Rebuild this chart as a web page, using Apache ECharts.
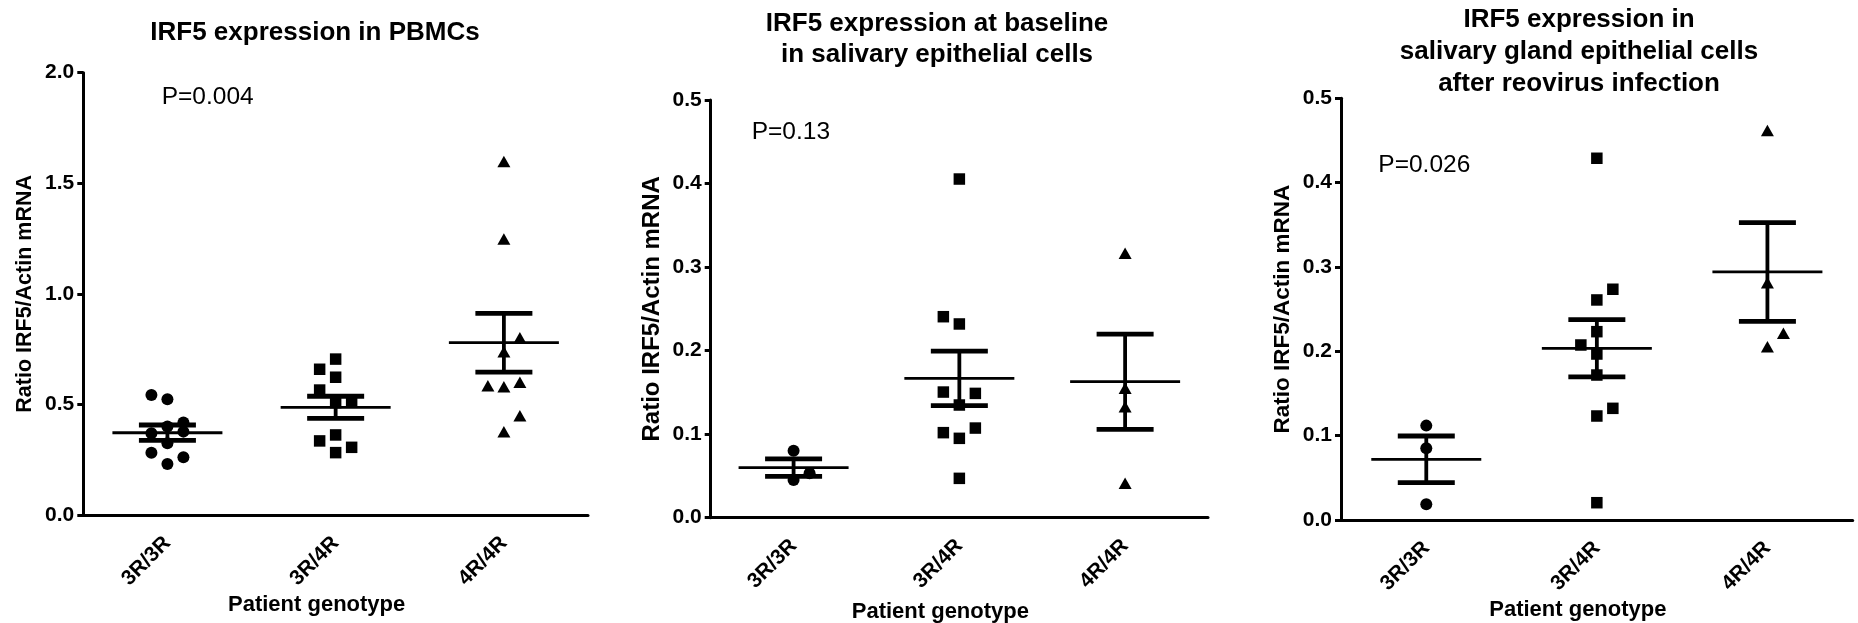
<!DOCTYPE html>
<html>
<head>
<meta charset="utf-8">
<script src="https://cdn.jsdelivr.net/npm/echarts@6/dist/echarts.min.js"></script>
<style>
  html, body { margin: 0; padding: 0; background: #fff; }
  #chart { width: 1858px; height: 623px; }
</style>
</head>
<body>
<div id="chart"></div>
<script>
// ---------------- DATA ----------------
const genotypes = ['3R/3R', '3R/4R', '4R/4R'];
const pbmcTickLabels = ['0.0', '0.5', '1.0', '1.5', '2.0'];
const salivaryTickLabels = ['0.0', '0.1', '0.2', '0.3', '0.4', '0.5'];

const titleTexts = [
  'IRF5 expression in PBMCs',
  'IRF5 expression at baseline\nin salivary epithelial cells',
  'IRF5 expression in\nsalivary gland epithelial cells\nafter reovirus infection'
];
const pValueTexts = ['P=0.004', 'P=0.13', 'P=0.026'];
const yAxisName = 'Ratio IRF5/Actin mRNA';
const xAxisName = 'Patient genotype';

// Panel 1: PBMCs
const pbmc33 = [0.523, 0.400, 0.324, 0.231, 0.418, 0.543, 0.370, 0.282, 0.377, 0.261];
const pbmc34 = [0.705, 0.623, 0.508, 0.362, 0.282, 0.511, 0.659, 0.565, 0.335, 0.306];
const pbmc44 = [1.598, 1.248, 0.738, 0.580, 0.377, 0.802, 0.585, 0.449, 0.600];
const pbmcMean = [0.372, 0.487, 0.779];
const pbmcSem = [0.035, 0.050, 0.133];

// Panel 2: salivary epithelial cells at baseline
const base33 = [0.0802, 0.0451, 0.0531];
const base34 = [0.4054, 0.2319, 0.1349, 0.0950, 0.0471, 0.1488, 0.2406, 0.1504, 0.1018, 0.1073];
const base44 = [0.3165, 0.1549, 0.1329, 0.0412];
const baseMean = [0.0599, 0.1668, 0.1628];
const baseSem = [0.0105, 0.0327, 0.0570];

// Panel 3: after reovirus infection
const reo33 = [0.1119, 0.0850, 0.0186];
const reo34 = [0.4289, 0.2609, 0.2233, 0.1968, 0.1719, 0.1233, 0.0205, 0.2736, 0.2075, 0.1324];
const reo44 = [0.4617, 0.2814, 0.2055, 0.2214];
const reoMean = [0.0719, 0.2036, 0.2941];
const reoSem = [0.0277, 0.0340, 0.0585];

// ---------------- LAYOUT / STYLE ----------------
const FONT = 'Liberation Sans, Arial, Helvetica, sans-serif';
const panels = [
  { grid: { left: 83.3, top: 72.7, width: 504.7, height: 442.3 }, yMax: 2.0, yInterval: 0.5, ticks: pbmcTickLabels,
    groups: [pbmc33, pbmc34, pbmc44], mean: pbmcMean, sem: pbmcSem,
    titleX: 315, titleTop: 20.2, titleLH: 26, pX: 161.7, pTop: 85.3, yNameSize: 21.5, yNameGap: 47, xNameGap: 79 },
  { grid: { left: 710.7, top: 100, width: 497.3, height: 417.7 }, yMax: 0.5, yInterval: 0.1, ticks: salivaryTickLabels,
    groups: [base33, base34, base44], mean: baseMean, sem: baseSem,
    titleX: 937, titleTop: 8.2, titleLH: 31, pX: 751.7, pTop: 120.3, yNameSize: 24, yNameGap: 46, xNameGap: 83 },
  { grid: { left: 1341, top: 98.3, width: 511.7, height: 421.7 }, yMax: 0.5, yInterval: 0.1, ticks: salivaryTickLabels,
    groups: [reo33, reo34, reo44], mean: reoMean, sem: reoSem,
    titleX: 1579, titleTop: 3.5, titleLH: 32, pX: 1378.3, pTop: 152.6, yNameSize: 22.5, yNameGap: 47, xNameGap: 79 }
];
const symbols = ['circle', 'rect', 'triangle'];
const symbolSizes = [12, 11.5, [13, 11.5]];
const LANE_PX = 16;      // horizontal dodge step
const MIN_GAP_PX = 16.3; // collision distance for dodge

// Beeswarm-style dodge: centre if free, else the roomier side (ties alternate)
function dodge(values, cat, pxPerUnit, laneVal) {
  const placed = [];
  let sideCount = 0;
  const minDist = (lane, v) => placed.reduce((m, p) =>
    Math.min(m, Math.hypot((lane - p.lane) * LANE_PX, (v - p.v) * pxPerUnit)), Infinity);
  return values.map(v => {
    let lane;
    if (minDist(0, v) >= MIN_GAP_PX) lane = 0;
    else {
      const dl = minDist(-1, v), dr = minDist(1, v);
      if (Math.abs(dl - dr) < 0.5) lane = (sideCount % 2 === 0) ? 1 : -1;
      else lane = dl > dr ? -1 : 1;
      sideCount++;
    }
    placed.push({ lane, v });
    return [cat + lane * laneVal, v];
  });
}

const grids = [], xAxes = [], yAxes = [], series = [], titles = [];
panels.forEach((p, i) => {
  grids.push(Object.assign({ containLabel: false, outerBoundsMode: 'none' }, p.grid));
  const pxPerUnit = p.grid.height / p.yMax;
  const laneVal = LANE_PX / (p.grid.width / genotypes.length);
  // category axis (visible)
  xAxes.push({
    type: 'category', gridIndex: i, data: genotypes, boundaryGap: true, position: 'bottom',
    axisLine: { onZero: false, lineStyle: { color: '#000', width: 3 } },
    axisTick: { alignWithLabel: true, length: 8, lineStyle: { color: '#000', width: 3 } },
    axisLabel: { rotate: 45, margin: 25, color: '#000', fontWeight: 'bold', fontSize: 21, fontFamily: FONT },
    splitLine: { show: false },
    name: xAxisName, nameLocation: 'middle', nameGap: p.xNameGap, nameMoveOverlap: false,
    nameTextStyle: { color: '#000', fontWeight: 'bold', fontSize: 22, fontFamily: FONT, padding: [0, 38, 0, 0] }
  });
  // value axis (hidden) used to place dodged points and mean/SEM marks
  xAxes.push({ type: 'value', gridIndex: i, min: -0.5, max: genotypes.length - 0.5, show: false,
    axisLine: { onZero: false } });
  yAxes.push({
    type: 'value', gridIndex: i, min: 0, max: p.yMax, interval: p.yInterval, position: 'left',
    axisLine: { show: true, onZero: false, lineStyle: { color: '#000', width: 3 } },
    axisTick: { show: true, length: 6, lineStyle: { color: '#000', width: 3 } },
    axisLabel: { margin: 9, color: '#000', fontWeight: 'bold', fontSize: 21, fontFamily: FONT,
      formatter: v => p.ticks[Math.round(v / p.yInterval)] },
    splitLine: { show: false },
    name: yAxisName, nameLocation: 'middle', nameGap: p.yNameGap, nameMoveOverlap: false,
    nameTextStyle: { color: '#000', fontWeight: 'bold', fontSize: p.yNameSize, fontFamily: FONT }
  });
  p.groups.forEach((vals, g) => {
    series.push({
      type: 'scatter', xAxisIndex: i * 2 + 1, yAxisIndex: i,
      symbol: symbols[g], symbolSize: symbolSizes[g],
      itemStyle: { color: '#000', opacity: 1 },
      data: dodge(vals, g, pxPerUnit, laneVal), silent: true, z: 3
    });
  });
  series.push({
    type: 'custom', xAxisIndex: i * 2 + 1, yAxisIndex: i, z: 2, silent: true,
    data: p.mean.map((m, g) => [g, m, p.sem[g]]),
    renderItem: (params, api) => {
      const x = api.value(0), m = api.value(1), s = api.value(2);
      const c = api.coord([x, m]), hi = api.coord([x, m + s]), lo = api.coord([x, m - s]);
      const ln = (x1, y1, x2, y2, w) => ({ type: 'line', shape: { x1, y1, x2, y2 }, style: { stroke: '#000', lineWidth: w } });
      return { type: 'group', children: [
        ln(c[0] - 55, c[1], c[0] + 55, c[1], 2.8),
        ln(c[0], hi[1], c[0], lo[1], 3.8),
        ln(c[0] - 28.5, hi[1], c[0] + 28.5, hi[1], 4.8),
        ln(c[0] - 28.5, lo[1], c[0] + 28.5, lo[1], 4.8)
      ] };
    }
  });
  titles.push({
    text: titleTexts[i], left: p.titleX, top: p.titleTop, textAlign: 'center', padding: 0,
    textStyle: { color: '#000', fontWeight: 'bold', fontSize: 26, fontFamily: FONT, lineHeight: p.titleLH }
  });
  titles.push({
    text: pValueTexts[i], left: p.pX, top: p.pTop, padding: 0,
    textStyle: { color: '#000', fontWeight: 'normal', fontSize: 24.5, fontFamily: FONT, lineHeight: 24.5 }
  });
});

const chart = echarts.init(document.getElementById('chart'), null, { renderer: 'canvas' });
chart.setOption({
  backgroundColor: '#fff',
  animation: false,
  title: titles,
  grid: grids,
  xAxis: xAxes,
  yAxis: yAxes,
  series: series
});
</script>
</body>
</html>
